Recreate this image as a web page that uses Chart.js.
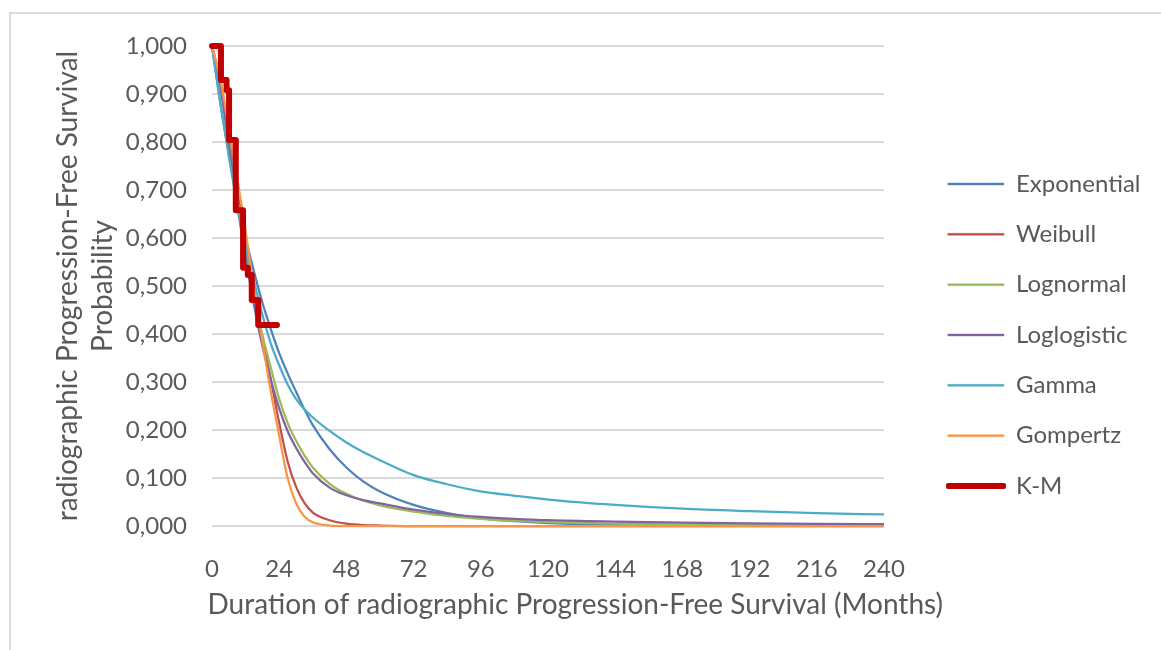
<!DOCTYPE html>
<html><head><meta charset="utf-8">
<script src="https://cdn.jsdelivr.net/npm/chart.js@4.4.1/dist/chart.umd.min.js"></script>
<style>
html,body{margin:0;padding:0;background:#fff;}
#wrap{position:relative;width:1161px;height:650px;overflow:hidden;background:#fff;}
#frame{position:absolute;left:9px;top:12px;width:1200px;height:700px;border-left:2px solid #d9d9d9;border-top:2px solid #d9d9d9;}
canvas{position:absolute;left:0;top:0;}
</style></head><body>
<div id="wrap"><div id="frame"></div><canvas id="c" width="1161" height="650"></canvas></div>
<script>
// ---- data ----
const months      = [0,3,6,9,12,15,18,21,24,27,30,33,36,42,48,54,60,72,84,96,108,120,144,168,192,216,240];
const exponential = [1.000,0.880,0.775,0.680,0.600,0.530,0.465,0.410,0.360,0.318,0.280,0.243,0.210,0.160,0.122,0.093,0.072,0.044,0.027,0.016,0.010,0.006,0.002,0.001,0.0004,0.0002,0.0001];
const weibull     = [1.000,0.925,0.820,0.710,0.600,0.490,0.390,0.305,0.215,0.135,0.082,0.048,0.028,0.012,0.005,0.002,0.001,0,0,0,0,0,0,0,0,0,0];
const lognormal   = [1.000,0.915,0.800,0.680,0.575,0.480,0.398,0.330,0.265,0.215,0.178,0.147,0.122,0.088,0.067,0.053,0.043,0.030,0.021,0.015,0.011,0.008,0.005,0.003,0.002,0.0015,0.001];
const loglogistic = [1.000,0.915,0.795,0.670,0.560,0.460,0.375,0.305,0.245,0.198,0.163,0.134,0.110,0.080,0.064,0.054,0.047,0.034,0.025,0.019,0.015,0.012,0.009,0.007,0.0055,0.0045,0.004];
const gamma       = [1.000,0.880,0.770,0.670,0.585,0.510,0.440,0.380,0.335,0.295,0.265,0.243,0.226,0.198,0.174,0.154,0.137,0.106,0.087,0.072,0.063,0.055,0.044,0.036,0.031,0.027,0.024];
const gompertz    = [1.000,0.930,0.830,0.725,0.615,0.495,0.385,0.280,0.188,0.100,0.048,0.020,0.008,0.001,0,0,0,0,0,0,0,0,0,0,0,0,0];
const kmMonths    = [0,3.2,5.2,6.1,8.5,11.1,12.8,14.2,16.5,23.2];
const kmValues    = [1.000,0.929,0.908,0.804,0.658,0.538,0.523,0.471,0.419,0.419];

const seriesNames  = ['Exponential','Weibull','Lognormal','Loglogistic','Gamma','Gompertz','K-M'];
const seriesColors = ['#4F81BD','#C0504D','#9BBB59','#8064A2','#4BACC6','#F79646','#C00000'];
const xTicks       = [0,24,48,72,96,120,144,168,192,216,240];
const xTickLabels  = ['0','24','48','72','96','120','144','168','192','216','240'];
const yTicks       = [0,0.1,0.2,0.3,0.4,0.5,0.6,0.7,0.8,0.9,1.0];
const yTickLabels  = ['0,000','0,100','0,200','0,300','0,400','0,500','0,600','0,700','0,800','0,900','1,000'];
const yTitle       = ['radiographic Progression-Free Survival','Probability'];
const xTitle       = 'Duration of radiographic Progression-Free Survival (Months)';

// ---- chart ----
const FONT = 'Lato';
const FS = 24;
const TFS = 28;
const TXT = '#595959';
Chart.defaults.font.family = FONT;
Chart.defaults.font.size = FS;
Chart.defaults.color = TXT;

const fitted = [exponential, weibull, lognormal, loglogistic, gamma, gompertz];
const datasets = fitted.map((vals, i) => ({
  label: seriesNames[i],
  data: months.map((m, j) => ({x: m, y: vals[j]})),
  borderColor: seriesColors[i],
  backgroundColor: seriesColors[i],
  borderWidth: 2.25,
  pointRadius: 0,
  cubicInterpolationMode: 'monotone',
  order: 6 - i,
  clip: false
}));
datasets.push({
  label: seriesNames[6],
  data: kmMonths.map((m, j) => ({x: m, y: kmValues[j]})),
  borderColor: seriesColors[6],
  backgroundColor: seriesColors[6],
  borderWidth: 6,
  pointRadius: 0,
  stepped: 'before',
  borderCapStyle: 'round',
  borderJoinStyle: 'round',
  order: 0,
  clip: false
});

const legPad = 26.33, boxW = 56;
const legendLeft = 948 - legPad;
const plotRight = 884;

const chart = new Chart(document.getElementById('c'), {
  type: 'line',
  data: { datasets },
  options: {
    responsive: false,
    animation: false,
    devicePixelRatio: 1,
    layout: { padding: { top: 46, bottom: 26, left: 0, right: 0 } },
    plugins: {
      tooltip: { enabled: false },
      title: {
        display: true,
        text: xTitle,
        position: 'bottom',
        align: 'center',
        color: TXT,
        font: { size: TFS, weight: 'normal', family: FONT },
        padding: { top: 0, bottom: 2.2 }
      },
      legend: {
        position: 'right',
        align: 'center',
        maxWidth: 400,
        labels: {
          boxWidth: boxW,
          boxHeight: 2,
          padding: legPad,
          color: TXT,
          font: { size: FS, family: FONT },
          sort: (a, b) => a.datasetIndex - b.datasetIndex,
          generateLabels(chart) {
            const items = Chart.defaults.plugins.legend.labels.generateLabels(chart);
            items.forEach(it => {
              const isKM = it.datasetIndex === 6;
              it.fillStyle = seriesColors[it.datasetIndex];
              it.strokeStyle = seriesColors[it.datasetIndex];
              it.lineWidth = isKM ? 4 : 0.4;
              it.lineCap = 'round';
              it.lineJoin = 'round';
              it.lineDash = [];
            });
            return items;
          }
        }
      }
    },
    scales: {
      x: {
        type: 'linear',
        min: 0, max: 240,
        afterBuildTicks: s => { s.ticks = xTicks.map(v => ({value: v})); },
        afterFit: s => { s.height = 62.2; },
        grid: { display: false },
        border: { display: false },
        ticks: {
          padding: 21,
          maxRotation: 0,
          autoSkip: false,
          callback: (v, i) => xTickLabels[i],
          color: TXT
        }
      },
      y: {
        type: 'linear',
        min: 0, max: 1,
        afterBuildTicks: s => { s.ticks = yTicks.map(v => ({value: v})); },
        afterFit: s => { s.width = 212; },
        grid: { color: '#D9D9D9', lineWidth: 2, drawTicks: false },
        border: { display: false },
        ticks: {
          padding: 25,
          autoSkip: false,
          callback: (v, i) => yTickLabels[i],
          color: TXT
        },
        title: {
          display: true,
          text: yTitle,
          color: TXT,
          font: { size: TFS, lineHeight: 1.25 },
          padding: { top: 50.5, bottom: 0 }
        }
      },
      gap: {
        type: 'linear',
        position: 'right',
        display: true,
        afterFit: s => { s.width = legendLeft - plotRight; },
        grid: { display: false },
        border: { display: false },
        ticks: { display: false }
      }
    }
  }
});
// place the legend: use the legend's own measured width
chart.options.layout.padding.right = 1161 - legendLeft - chart.legend.width;
chart.update();
</script>
</body></html>
